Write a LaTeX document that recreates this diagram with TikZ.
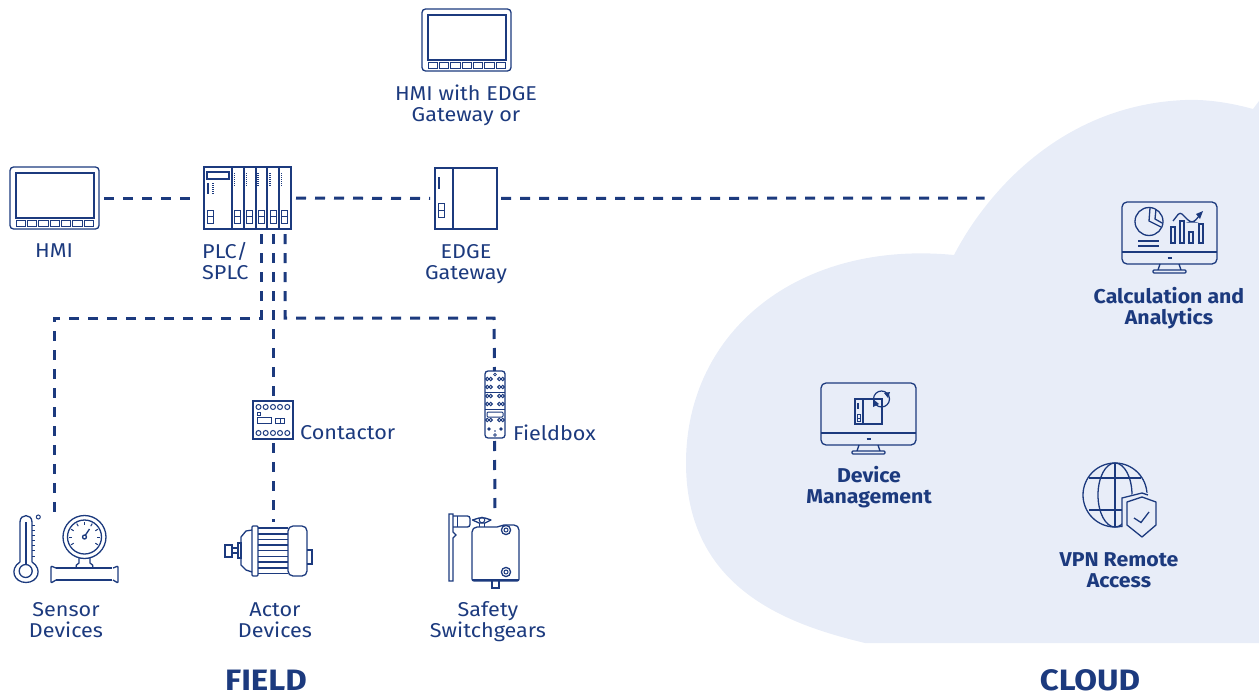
\documentclass[tikz,border=0pt]{standalone}
\usepackage{fontspec}
\setmainfont{Fira Sans}
\newfontfamily\labfont[FakeStretch=1.08]{Fira Sans}
\newfontfamily\boldfont[FakeStretch=1.065]{Fira Sans}
\newfontfamily\headfont[FakeStretch=1.12]{Fira Sans}
\definecolor{navy}{HTML}{1C3A7E}
\definecolor{cloudfill}{HTML}{E8EDF8}
\tikzset{
  hold/.style={rectangle,inner sep=0pt,outer sep=0pt,draw=none},
  icon/.style={draw=navy,line width=1.3pt},
  thinicon/.style={draw=navy,line width=1pt},
  link/.style={draw=navy,line width=3pt,dash pattern=on 10pt off 9pt},
  lab/.style={text=navy,align=center,inner sep=0pt,font=\fontsize{20}{21}\selectfont\labfont},
  labl/.style={lab,align=left},
  blab/.style={lab,font=\fontsize{20}{21}\selectfont\boldfont\bfseries},
  head/.style={lab,font=\fontsize{29.5}{30}\selectfont\headfont\bfseries},
  hmiicon/.pic={
    \draw[icon,rounded corners=3.5pt] (0,0) rectangle (89,62);
    \draw[icon] (6,6) rectangle (84,51);
    \foreach \i in {0,...,6}{
      \draw[thinicon] ({6.2+\i*11.35},53.4) rectangle ({15.4+\i*11.35},59.2);
    }
  },
  monitoricon/.pic={
    \draw[icon,rounded corners=5pt] (0,0) rectangle (95,62);
    \draw[icon] (0,50) -- (95,50);
    \draw[icon] (45.5,56) -- (49.5,56);
    \draw[icon] (38,62) -- (36,68) (57,62) -- (59,68);
    \draw[icon,fill=cloudfill,rounded corners=1pt] (31,68) rectangle (64,71);
  },
  slotmod/.pic={
    \draw[draw=navy,line width=1.2pt,dash pattern=on 1pt off 1pt] (0,6) -- (0,20);
    \draw[thinicon] (0,43) rectangle (6,49) (0,49) rectangle (6,56);
  },
  portpair/.pic={
    \draw[thinicon] (0,0) circle (1.7) (3.4,0) circle (1.7);
  }
}
\begin{document}
\begin{tikzpicture}[x=1pt,y=-1pt]
\useasboundingbox (0,0) rectangle (1259,693);
% cloud
\fill[cloudfill] (954,255) .. controls (985,195) and (1060,105) .. (1185,100)
  .. controls (1210,99) and (1235,104) .. (1253,109) -- (1259,101) -- (1259,643) -- (865,643)
  .. controls (790,625) and (686,590) .. (686,463)
  .. controls (686,330) and (800,240) .. (954,255) -- cycle;
% anchor nodes of the icons
\node[hold,minimum width=89pt,minimum height=62pt] (hmi) at (54.5,198) {};
\node[hold,minimum width=87pt,minimum height=62pt] (plc) at (247.5,198) {};
\node[hold,minimum width=62pt,minimum height=61pt] (edge) at (466,198.5) {};
\node[hold,minimum width=89pt,minimum height=62pt] (hmitop) at (466,40) {};
\node[hold,minimum width=40pt,minimum height=38pt] (ct) at (273,420) {};
\node[hold,minimum width=20pt,minimum height=67pt] (fb) at (494.5,404.5) {};
\node[hold,minimum width=104pt,minimum height=69pt] (sensor) at (66,550) {};
\node[hold,minimum width=87pt,minimum height=50pt] (motor) at (268.5,551) {};
\node[hold,minimum width=70pt,minimum height=74pt] (switch) at (484.5,551) {};
\node[hold] (cloudedge) at (985,198) {};
\coordinate (p1) at (261,234);
\coordinate (p2) at (273,234);
\coordinate (p3) at (285,234);
\coordinate (j1) at (54,318);
\coordinate (j3) at (494,318);
\coordinate (st) at (54,512);
\coordinate (mt) at (273,522);
\coordinate (sw) at (495,513);
% connectors
\draw[link,shorten <=5pt,shorten >=5pt] (hmi.east) -- (plc.west);
\draw[link,shorten <=5pt,shorten >=5pt] (plc.east) -- (edge.west);
\draw[link,shorten <=4pt] (edge.east) -- (cloudedge);
\draw[link] (p1) |- (j1) -- (st);
\draw[link] (p2) -- (ct.north);
\draw[link] (p3) |- (j3) -- (fb.north);
\draw[link,shorten <=4pt] (ct.south) -- (mt);
\draw[link,shorten <=3pt] (fb.south) -- (sw);
% HMIs
\pic at (10,167) {hmiicon};
\pic at (422,9) {hmiicon};
% PLC
\draw[icon] (204,167) rectangle (291,229);
\foreach \x in {232,244,256,267,279}{\draw[icon] (\x,167) -- (\x,229);}
\draw[thinicon,line width=1.2pt] (207,172) rectangle (229,179);
\draw[navy,line width=2pt] (208,183) -- (208,194);
\draw[navy,line width=1.2pt,dash pattern=on 1pt off 1pt] (213,183) -- (213,194);
\draw[thinicon] (207,210) rectangle (213,216) (207,216) rectangle (213,223);
\foreach \x in {234.5,246.5,258,270,281.5}{\pic at (\x,167) {slotmod};}
% EDGE gateway
\draw[icon] (435,168) rectangle (497,229);
\draw[icon] (453,168) -- (453,229);
\draw[navy,line width=2pt] (439,177) -- (439,189);
\draw[thinicon] (438,203) rectangle (444,210) (438,210) rectangle (444,217);
% contactor
\draw[icon] (253,401) rectangle (293,439);
\foreach \x in {258.5,265.7,273,280,287.3}{\draw[thinicon] (\x,407) circle (2.5) (\x,433) circle (2.5);}
\draw[thinicon] (257.5,412.5) rectangle (260.5,415.5);
\draw[thinicon] (257,417) rectangle (271,423);
\draw[thinicon] (275,418) rectangle (284,423);
\draw[thinicon] (280,418) -- (280,423);
% fieldbox
\draw[icon,rounded corners=3pt] (485,371) rectangle (505,438);
\draw[thinicon,line width=.7pt] (485,392) -- (505,392) (485,409) -- (505,409);
\draw[thinicon,line width=.8pt] (495,374.5) circle (1.4) (495,435) circle (1.4);
\foreach \y in {379,387,396,404,420}{
  \pic at (487.3,\y) {portpair};
  \pic at (499.3,\y) {portpair};
}
\draw[thinicon,rounded corners=1pt] (487,412) rectangle (503,417);
\fill[navy] (489,429) circle (1.8) (501,429) circle (1.8) (495,431) circle (.8);
% switchgear
\draw[icon] (449,514) -- (453,514) -- (453,532) -- (456,535) -- (453,538) -- (453,581) -- (449,581) -- cycle;
\draw[icon,rounded corners=2.5pt] (453,516) -- (470,516) -- (470,527) -- (453,527);
\draw[thinicon] (457,516) -- (457,527);
\draw[icon,rounded corners=2pt] (472,581) -- (472,530) -- (475,527) -- (495,527)
   .. controls (500,527) and (501,525) .. (506,525) -- (516,525) -- (519,528) -- (519,581) -- cycle;
\draw[navy,line width=2.4pt] (472,580) -- (519,580);
\draw[icon,line join=round] (472.5,520) -- (479,518) -- (485,518) -- (491,520) -- (485,523) -- (479,523) -- cycle;
\draw[thinicon] (479.5,523) -- (479.5,527) (484.5,523) -- (484.5,527);
\draw[thinicon] (482,520) circle (2.8);
\draw[icon] (506,530) circle (4.6) (506,572) circle (4.6);
\draw[thinicon] (506,530) circle (2) (506,572) circle (2);
\draw[icon] (492,581) -- (492,588) -- (499,588) -- (499,581);
% motor
\draw[icon] (225,545) rectangle (232,557);
\draw[icon] (232,548) -- (238,548) (232,553) -- (238,553);
\draw[icon] (238,543) rectangle (241,558);
\draw[icon] (252,530) -- (246,531) -- (241,537) -- (241,565) -- (246,570) -- (252,572);
\draw[icon,rounded corners=1pt] (252,526) rectangle (258,576);
\foreach \y in {528,534,539.5,545,550.5,556.5,562,568,573.5}{\draw[thinicon,line width=1.2pt] (258,\y) -- (288,\y);}
\draw[icon,rounded corners=5pt] (288,526) -- (307,526) -- (307,576) -- (288,576) -- cycle;
\draw[icon] (307,550) -- (312,550) -- (312,564) -- (307,564);
% thermometer
\draw[icon] (20,562) -- (20,522) .. controls (20,513.5) and (32,513.5) .. (32,522) -- (32,562);
\draw[icon] (20,562) .. controls (9,569) and (14,582.5) .. (26,582.5)
   .. controls (38,582.5) and (43,569) .. (32,562);
\draw[icon] (25.7,571) circle (6.5);
\draw[navy,line width=2pt] (25.7,522) -- (25.7,564.5);
\foreach \y in {525,530,535,540,545,550,556}{\draw[thinicon] (32,\y) -- (35,\y);}
\draw[thinicon] (38.3,517) circle (2);
% gauge
\draw[icon] (84.5,537) circle (21.5) (84.5,537) circle (17);
\foreach \a in {-210,-180,-150,-120,-90,-60,-30,0,30}{
  \draw[thinicon,shift={(84.5,537)}] (\a:12.5) -- (\a:15.5);
}
\draw[icon] (84.5,537) circle (2);
\draw[icon] (85.5,535) -- (89.5,529);
\draw[icon] (79,558) -- (79,563) .. controls (76,564) and (76,566) .. (76,568)
   -- (93,568) .. controls (93,566) and (93,564) .. (90,563) -- (90,558);
\draw[icon] (56,568) -- (112,568) (56,580) -- (112,580);
\draw[icon,rounded corners=1pt] (56,568) -- (51,566) -- (51,583) -- (56,580);
\draw[icon,rounded corners=1pt] (113,568) -- (118,566) -- (118,583) -- (113,580);
% analytics monitor
\pic at (1122,202) {monitoricon};
\draw[icon] (1149,221.5) circle (14);
\draw[icon] (1150,208) -- (1149,221) -- (1161,227);
\draw[icon] (1156,209) -- (1155,219) -- (1162,223);
\draw[icon] (1138,241) -- (1159,241) (1138,246) -- (1159,246);
\draw[icon] (1171,227) rectangle (1175,243);
\draw[icon] (1180,221) rectangle (1184,243);
\draw[icon] (1189,232) rectangle (1193,243);
\draw[icon] (1199,224) rectangle (1203,243);
\draw[icon,rounded corners=3pt] (1173,221) -- (1180,212) -- (1190,222) -- (1194,222) -- (1199,216);
\fill[navy] (1203,211) -- (1196,214) -- (1200,219) -- cycle;
% device management monitor
\pic at (821,383) {monitoricon};
\draw[thinicon,line width=1.2pt] (855,399) rectangle (882,424);
\draw[navy,line width=2.2pt] (855,399) -- (863,399) -- (863,424) -- (855,424) -- cycle;
\draw[navy,line width=1.6pt] (858,403) -- (858,409);
\draw[thinicon] (857,414) rectangle (860,418) (857,418) rectangle (860,421);
\draw[thinicon,line width=1.2pt] (881.5,399) circle (8);
\fill[navy] (884,393) -- (890,392) -- (888,398) -- cycle;
\fill[navy] (873,399) -- (879,404) -- (873,407) -- cycle;
% VPN
\draw[icon] (1115,495) circle (32);
\draw[icon] (1115,495) ellipse [x radius=17,y radius=32];
\draw[icon] (1115,463) -- (1115,527);
\draw[icon] (1089,478) -- (1141,478) (1089,510) -- (1141,510);
\fill[cloudfill] (1122,498) -- (1142,491) -- (1162,498) -- (1162,527) -- (1142,542) -- (1122,527) -- cycle;
\draw[icon] (1122,527) -- (1122,498) -- (1142,493) -- (1148,495);
\draw[icon,line join=round] (1142,497) -- (1156,502) -- (1156,525) -- (1142,537) -- (1127,525) -- (1127,502) -- cycle;
\draw[icon] (1134,518) -- (1141,522.5) -- (1149,512);
% labels
\node[lab] (lhmi) at (54,251) {HMI};
\node[labl,anchor=west] (lplc) at (202,261.5) {PLC/\\SPLC};
\node[lab] (lhmitop) at (466,105.5) {HMI with EDGE\\Gateway or};
\node[lab] (ledge) at (466,264) {EDGE\\Gateway};
\node[labl,anchor=west] (lct) at (300,433) {Contactor};
\node[labl,anchor=west] (lfb) at (513,433) {Fieldbox};
\node[lab] (lsen) at (66,620.5) {Sensor\\Devices};
\node[lab] (lact) at (275,620.5) {Actor\\Devices};
\node[lab] (lsaf) at (488,621.5) {Safety\\Switchgears};
\node[blab] (lcal) at (1169,308.5) {Calculation and\\Analytics};
\node[blab] (ldev) at (869,487.5) {Device\\Management};
\node[blab] (lvpn) at (1119,570.5) {VPN Remote\\Access};
\node[head] (lfield) at (266,680) {FIELD};
\node[head] (lcloud) at (1090,680) {CLOUD};
\end{tikzpicture}
\end{document}
